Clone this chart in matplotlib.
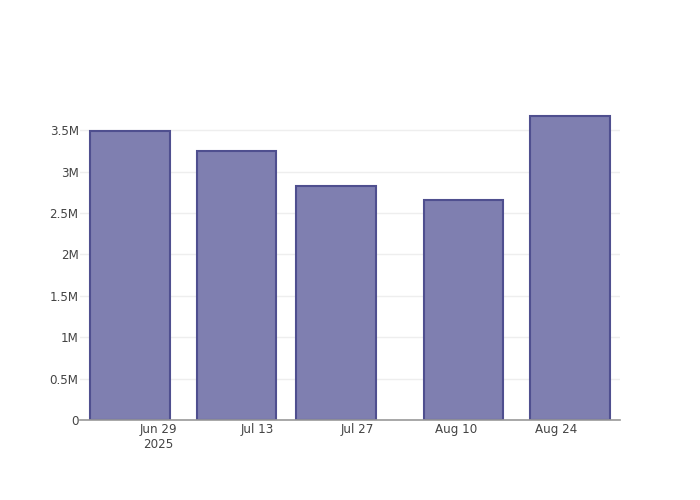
import datetime as dt
import matplotlib
matplotlib.use("Agg")
import matplotlib.pyplot as plt
import matplotlib.dates as mdates
from matplotlib.ticker import FuncFormatter

dates = ["2025-06-25", "2025-07-10", "2025-07-24", "2025-08-11", "2025-08-26"]
values = [3.49e6, 3.25e6, 2.83e6, 2.655e6, 3.675e6]
tick_dates = ["2025-06-29", "2025-07-13", "2025-07-27", "2025-08-10", "2025-08-24"]
tick_labels = ["Jun 29\n2025", "Jul 13", "Jul 27", "Aug 10", "Aug 24"]
y_ticks = [0, 0.5e6, 1e6, 1.5e6, 2e6, 2.5e6, 3e6, 3.5e6]

to_d = lambda s: dt.datetime.strptime(s, "%Y-%m-%d")
xs = [to_d(s) for s in dates]

fig = plt.figure(figsize=(7, 5), dpi=100)
ax = fig.add_axes([80 / 700, 80 / 500, 540 / 700, 320 / 500])
ax.bar(xs, values, width=11.2, color="#7f7fb0", edgecolor="#4f4f8f", linewidth=1.5, zorder=3)

ax.set_xlim(to_d("2025-06-18"), to_d("2025-09-02"))
ax.set_ylim(0, 3.866e6)
ax.set_xticks([mdates.date2num(to_d(s)) for s in tick_dates])
ax.set_xticklabels(tick_labels, color="#444444", fontsize=8.6, linespacing=1.25)
ax.set_yticks(y_ticks)

def fmt(v, _):
    if v == 0:
        return "0"
    m = v / 1e6
    return f"{m:g}M"
ax.yaxis.set_major_formatter(FuncFormatter(fmt))
ax.tick_params(axis="y", length=0, labelsize=8.6, labelcolor="#444444", pad=1)
ax.tick_params(axis="x", length=0, pad=2)
ax.grid(axis="y", color="#eeeeee", linewidth=1, zorder=0)
for s in ["top", "right", "left"]:
    ax.spines[s].set_visible(False)
ax.spines["bottom"].set_color("#999999")
ax.spines["bottom"].set_linewidth(1.2)
ax.spines["bottom"].set_zorder(4)

fig.savefig("out.png", dpi=100)
